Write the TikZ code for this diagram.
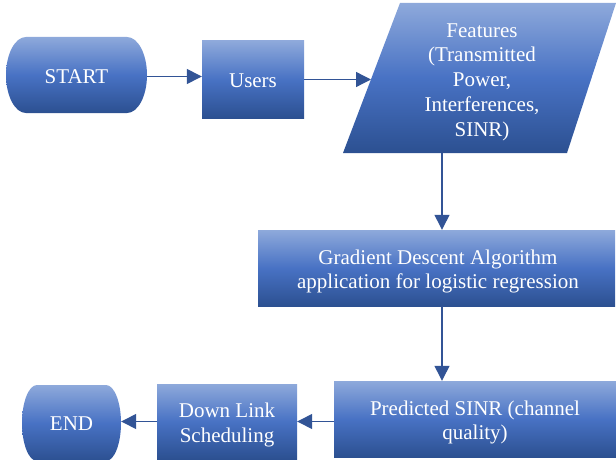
\documentclass[tikz,border=0pt]{standalone}
\usepackage{fontspec}
\setmainfont{Liberation Serif}
\usetikzlibrary{arrows.meta,calc}
\definecolor{gtop}{RGB}{142,169,219}
\definecolor{gmid}{RGB}{72,114,196}
\definecolor{gbot}{RGB}{44,80,145}
\definecolor{arrcol}{RGB}{50,84,150}
\tikzset{
  fillshade/.style={top color=gtop, bottom color=gbot, middle color=gmid},
  boxtext/.style={text=white, font=\fontsize{21}{24.8}\selectfont, align=center, inner sep=0pt},
  box/.style={rectangle, fillshade, boxtext},
  arr/.style={draw=arrcol, line width=1.3pt, -{Triangle[length=15pt,width=15pt]}}
}
\begin{document}
\begin{tikzpicture}[x=1pt,y=-1pt]
\useasboundingbox (0,0) rectangle (616,460);
% START
\shade[fillshade] (26,37) -- (127,37) arc[start angle=90,end angle=-90,x radius=20pt,y radius=38pt]
  -- (26,113) arc[start angle=270,end angle=90,x radius=20pt,y radius=38pt] -- cycle;
\node[boxtext, minimum width=141pt, minimum height=76pt] (start) at (76.5,76.5) {START};
% Users
\node[box, minimum width=102pt, minimum height=77pt] (users) at (253,79.5) {};
\node[boxtext] (userst) at ([yshift=-1pt]users.center) {Users};
% Features
\shade[fillshade] (400,3) -- (616,3) -- (567,153) -- (343,153) -- cycle;
\node[boxtext] (feat) at (482,82) {Features\\(Transmitted\\Power,\\Interferences,\\SINR)};
\coordinate (featin) at (371,79.5);
\coordinate (featout) at (442,153);
% Gradient
\node[box, minimum width=357pt, minimum height=76pt] (grad) at (436.5,268) {};
\node[boxtext] (gradt) at ([xshift=1.5pt,yshift=-3.5pt]grad.center) {Gradient Descent Algorithm\\application for logistic regression};
% Predicted
\node[box, minimum width=282pt, minimum height=76pt] (pred) at (475,419) {};
\node[boxtext] (predt) at ([yshift=-3.5pt]pred.center) {Predicted SINR (channel\\quality)};
% Down Link
\node[box, minimum width=140pt, minimum height=75pt] (down) at (227,421.5) {};
\node[boxtext] (downt) at ([yshift=-3.5pt]down.center) {Down Link\\Scheduling};
% END
\shade[fillshade] (37,385) -- (106,385) arc[start angle=90,end angle=-90,x radius=15pt,y radius=38pt]
  -- (37,461) arc[start angle=270,end angle=90,x radius=15pt,y radius=38pt] -- cycle;
\node[boxtext, minimum width=99pt, minimum height=76pt] (end) at (71.5,423.5) {END};
% connectors
\draw[arr] (start.east) -- (start.east -| users.west);
\draw[arr] (users.east) -- (featin);
\draw[arr] (featout) -- (featout |- grad.north);
\draw[arr] (featout |- grad.south) -- (featout |- pred.north);
\draw[arr] (pred.west |- down.east) -- (down.east);
\draw[arr] (down.west) -- (down.west -| end.east);
\end{tikzpicture}
\end{document}
